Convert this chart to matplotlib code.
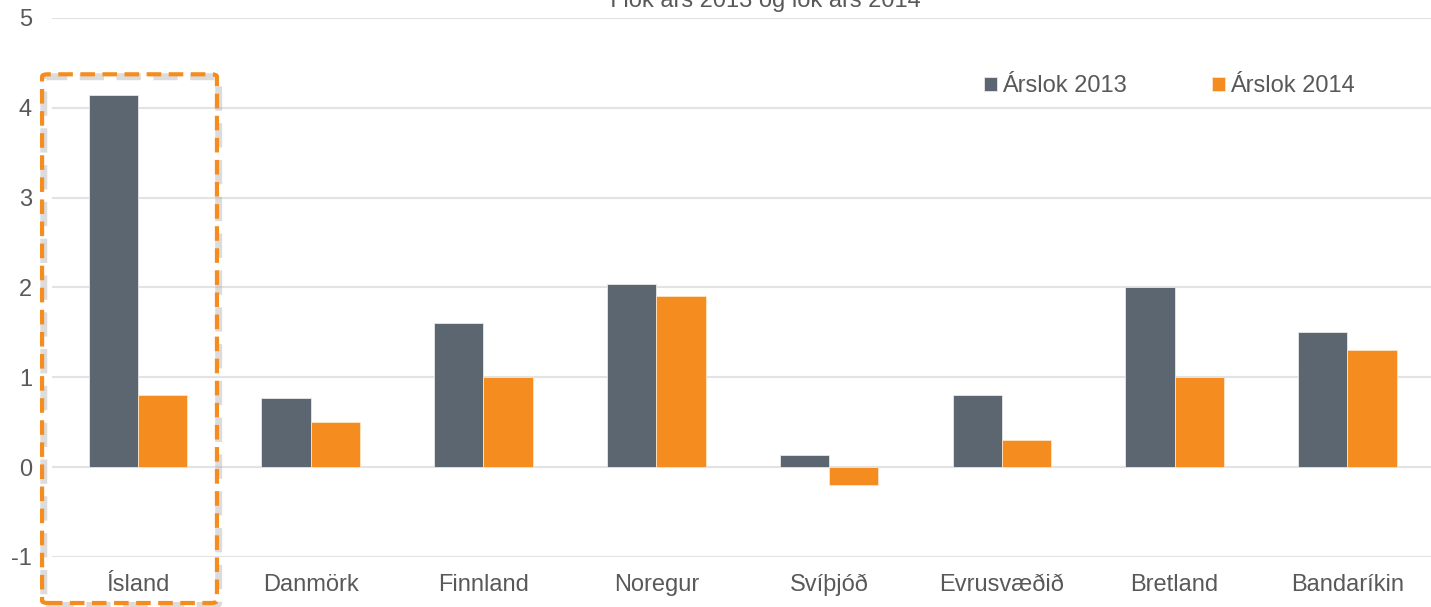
import matplotlib.pyplot as plt
import numpy as np
from matplotlib.patches import FancyBboxPatch

plt.rcParams['font.family'] = ['Liberation Sans', 'DejaVu Sans']

countries = ['Ísland', 'Danmörk', 'Finnland', 'Noregur', 'Svíþjóð',
             'Evrusvæðið', 'Bretland', 'Bandaríkin']
arslok_2013 = [4.14, 0.77, 1.6, 2.04, 0.13, 0.8, 2.0, 1.5]
arslok_2014 = [0.8, 0.5, 1.0, 1.9, -0.2, 0.3, 1.0, 1.3]
yticks = [-1, 0, 1, 2, 3, 4, 5]

dark = '#5c6670'
orange = '#f48c1f'
textcol = '#595959'

fig = plt.figure(figsize=(14.31, 6.07), dpi=100)
ax = fig.add_axes([0.036, 0.0824, 0.966, 0.888])

x = np.arange(len(countries))
w = 0.285
ax.bar(x - w / 2, arslok_2013, w, color=dark, label='Árslok 2013', zorder=3,
       edgecolor='#e8e8e8', linewidth=0.6)
ax.bar(x + w / 2, arslok_2014, w, color=orange, label='Árslok 2014', zorder=3,
       edgecolor='#fbe3c8', linewidth=0.6)

ax.set_xlim(-0.5, 7.5)
ax.set_ylim(-1, 5)
ax.set_yticks(yticks)
ax.set_yticklabels([str(t) for t in yticks])
ax.set_xticks(x)
ax.set_xticklabels(countries)
ax.tick_params(axis='both', length=0, labelsize=17, colors=textcol)
ax.tick_params(axis='y', pad=14)
ax.tick_params(axis='x', pad=12)
ax.grid(axis='y', color='#e3e3e3', linewidth=1.5, zorder=0)
ax.set_axisbelow(True)
for s in ax.spines.values():
    s.set_visible(False)

leg = ax.legend(loc='center left', bbox_to_anchor=(0.6595, 0.873), ncol=2,
                frameon=False, fontsize=17, handlelength=0.55, handleheight=0.55,
                handletextpad=0.2, columnspacing=3.6, labelcolor=textcol)

# title sits mostly above the visible area in the original
fig.text(0.535, 0.9885, 'Í lok árs 2013 og lok árs 2014', ha='center',
         va='baseline', fontsize=17, color=textcol)

# dashed highlight box around Ísland
shadow = FancyBboxPatch((0.0294 + 0.0012, 0.0066 - 0.004), 0.1222, 0.871,
                        boxstyle='round,pad=0,rounding_size=0.004',
                        transform=fig.transFigure, fill=False,
                        edgecolor='#a8a8a8', alpha=0.4, linewidth=5,
                        linestyle=(0, (3.5, 1.8)), clip_on=False)
fig.add_artist(shadow)
box = FancyBboxPatch((0.0294, 0.0066), 0.1222, 0.871,
                     boxstyle='round,pad=0,rounding_size=0.004',
                     transform=fig.transFigure, fill=False,
                     edgecolor=orange, linewidth=3,
                     linestyle=(0, (3.5, 1.8)), clip_on=False)
fig.add_artist(box)

fig.savefig('out.png', dpi=100)
